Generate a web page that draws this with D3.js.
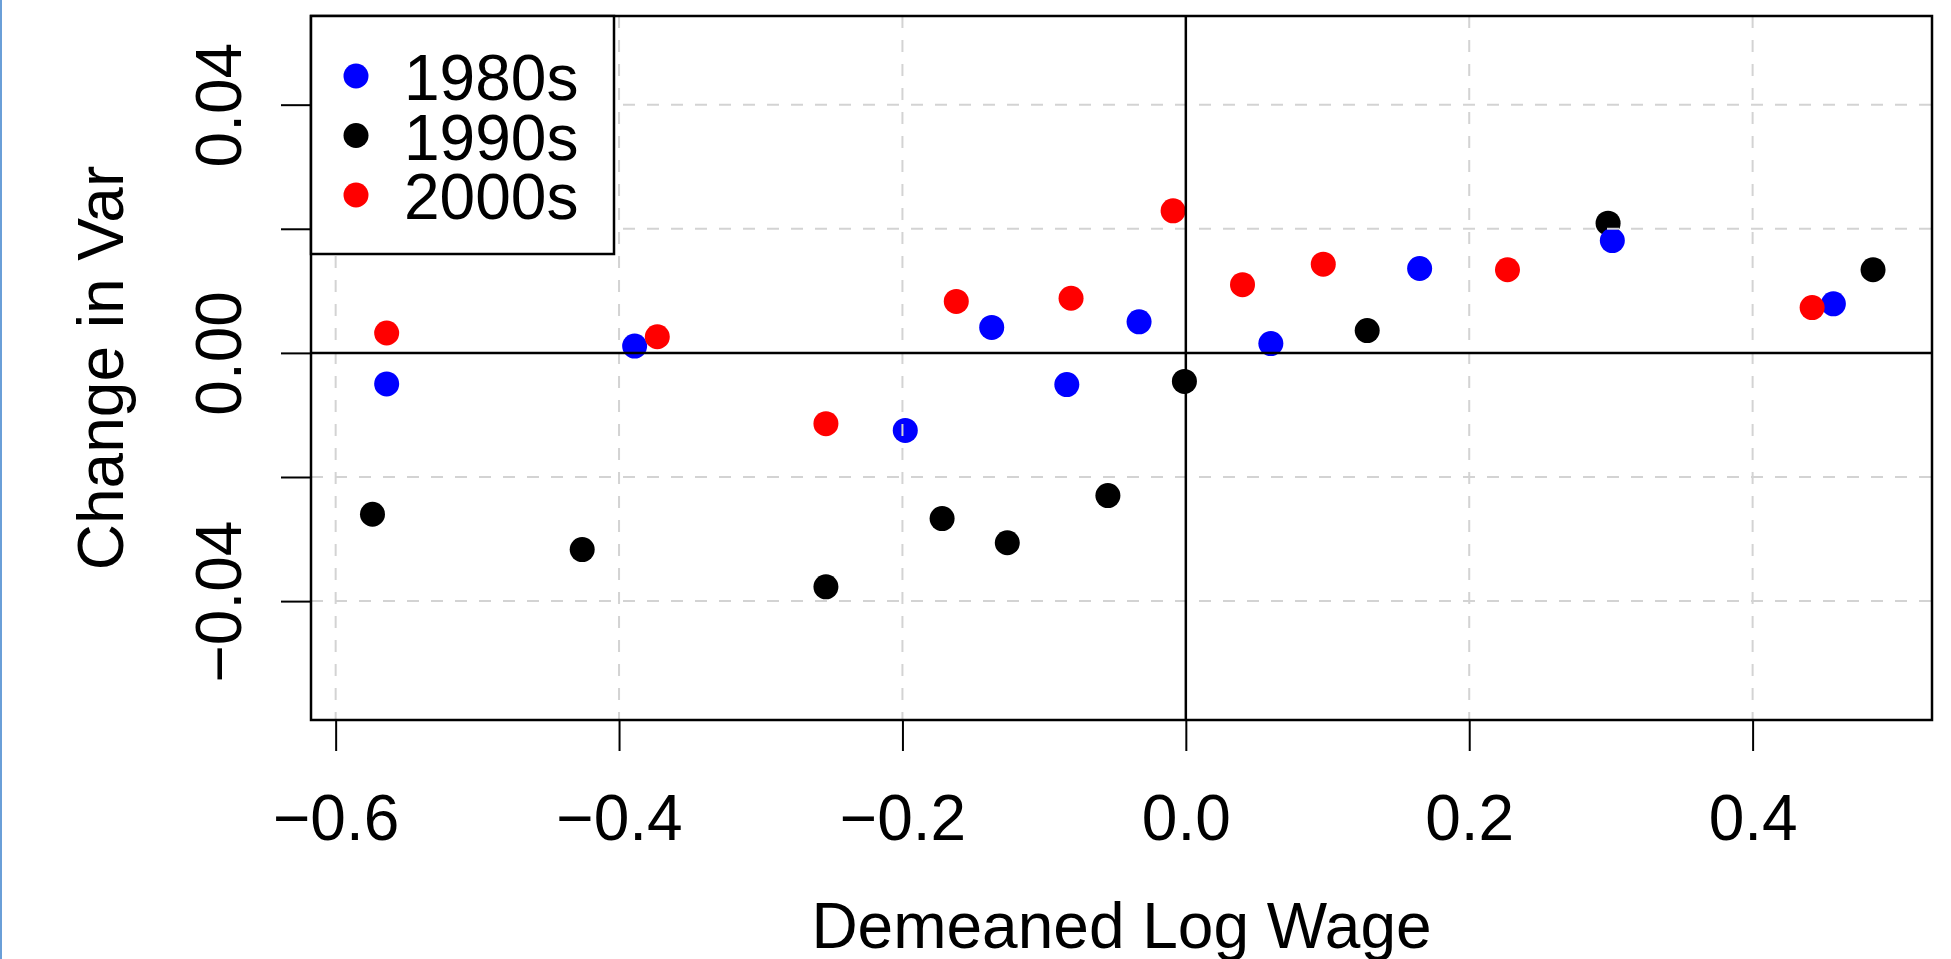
<!DOCTYPE html>
<html lang="en">
<head>
    <meta charset="UTF-8">
    <title>Change in Var by Demeaned Log Wage</title>
    <style>
        html, body {
            margin: 0;
            padding: 0;
            background: #fff;
        }
        #chart {
            position: relative;
            width: 1951px;
            height: 959px;
            overflow: hidden;
        }
        .leftbar {
            position: absolute;
            left: 0;
            top: 0;
            width: 2px;
            height: 959px;
            background: #6a9fd8;
        }
        text {
            font-family: "Liberation Sans", Arial, Helvetica, sans-serif;
            fill: #000;
        }
    </style>
</head>
<body>
    <div id="chart"><div class="leftbar"></div></div>
    <script src="https://d3js.org/d3.v7.min.js"></script>
    <script>
        // series
        var decades = ["1980s", "1990s", "2000s"];
        var decadeColors = ["#0000ff", "#000000", "#ff0000"];

        var wage1980s = [-0.564, -0.389, -0.198, -0.137, -0.084, -0.033, 0.060, 0.165, 0.301, 0.457];
        var var1980s  = [-0.0050, 0.0011, -0.0125, 0.0041, -0.0051, 0.0050, 0.0015, 0.0136, 0.0181, 0.0079];

        var wage1990s = [-0.574, -0.426, -0.254, -0.172, -0.126, -0.055, -0.001, 0.128, 0.298, 0.485];
        var var1990s  = [-0.0260, -0.0317, -0.0377, -0.0267, -0.0306, -0.0230, -0.0046, 0.0036, 0.0209, 0.0134];

        var wage2000s = [-0.564, -0.373, -0.254, -0.162, -0.081, -0.009, 0.040, 0.097, 0.227, 0.442];
        var var2000s  = [0.0032, 0.0026, -0.0114, 0.0083, 0.0088, 0.0229, 0.0110, 0.0143, 0.0134, 0.0073];

        var xTicks = [-0.6, -0.4, -0.2, 0.0, 0.2, 0.4];
        var yTicks = [-0.04, -0.02, 0.00, 0.02, 0.04];
        var yTickLabels = ["\u22120.04", "", "0.00", "", "0.04"];

        var xTitle = "Demeaned Log Wage";
        var yTitle = "Change in Var";

        // plot region in page pixels
        var W = 1951, H = 959;
        var plot = {left: 311, right: 1932, top: 16, bottom: 720};
        var fontSize = 64;

        var svg = d3.select("#chart").append("svg")
            .attr("width", W)
            .attr("height", H)
            .style("position", "absolute")
            .style("left", 0)
            .style("top", 0);

        var x = d3.scaleLinear().domain([-0.6174, 0.5266]).range([plot.left, plot.right]);
        var y = d3.scaleLinear().domain([-0.05916, 0.05429]).range([plot.bottom, plot.top]);

        function fmtX(d) {
            return d3.format(".1f")(d).replace("-", "\u2212");
        }

        // points: 1990s first, then 1980s, then 2000s on top
        var series = [
            {name: "1990s", xs: wage1990s, ys: var1990s, color: decadeColors[1]},
            {name: "1980s", xs: wage1980s, ys: var1980s, color: decadeColors[0]},
            {name: "2000s", xs: wage2000s, ys: var2000s, color: decadeColors[2]}
        ];

        svg.append("clipPath").attr("id", "plotclip")
            .append("rect")
            .attr("x", plot.left).attr("y", plot.top)
            .attr("width", plot.right - plot.left)
            .attr("height", plot.bottom - plot.top);

        var pts = svg.append("g").attr("clip-path", "url(#plotclip)");
        series.forEach(function(s) {
            pts.selectAll(null)
                .data(d3.range(s.xs.length))
                .join("circle")
                .attr("cx", function(i) { return x(s.xs[i]); })
                .attr("cy", function(i) { return y(s.ys[i]); })
                .attr("r", 12.5)
                .attr("fill", s.color);
        });

        // grid drawn over the points (like R grid())
        var grid = svg.append("g")
            .attr("stroke", "#d3d3d3")
            .attr("stroke-width", 2)
            .attr("stroke-dasharray", "12,12");
        grid.selectAll("line.gx")
            .data(xTicks.filter(function(d) { return d !== 0; }))
            .join("line")
            .attr("class", "gx")
            .attr("x1", function(d) { return x(d); })
            .attr("x2", function(d) { return x(d); })
            .attr("y1", plot.top)
            .attr("y2", plot.bottom);
        grid.selectAll("line.gy")
            .data(yTicks.filter(function(d) { return d !== 0; }))
            .join("line")
            .attr("class", "gy")
            .attr("x1", plot.left)
            .attr("x2", plot.right)
            .attr("y1", function(d) { return y(d); })
            .attr("y2", function(d) { return y(d); });

        // zero lines
        svg.append("line")
            .attr("x1", plot.left).attr("x2", plot.right)
            .attr("y1", y(0)).attr("y2", y(0))
            .attr("stroke", "#000").attr("stroke-width", 2.5);
        svg.append("line")
            .attr("x1", x(0)).attr("x2", x(0))
            .attr("y1", plot.top).attr("y2", plot.bottom)
            .attr("stroke", "#000").attr("stroke-width", 2.5);

        // axes
        var xAxis = d3.axisBottom(x)
            .tickValues(xTicks)
            .tickSize(31)
            .tickPadding(44)
            .tickFormat(fmtX);
        var gx = svg.append("g")
            .attr("transform", "translate(0," + plot.bottom + ")")
            .call(xAxis);
        gx.select(".domain").remove();
        gx.selectAll(".tick line").attr("stroke", "#000").attr("stroke-width", 2);
        gx.selectAll(".tick text")
            .attr("font-size", fontSize)
            .attr("font-family", "Liberation Sans, Arial, Helvetica, sans-serif")
            .attr("fill", "#000");

        var yAxis = d3.axisLeft(y)
            .tickValues(yTicks)
            .tickSize(30)
            .tickFormat(function(d, i) { return yTickLabels[i]; });
        var gy = svg.append("g")
            .attr("transform", "translate(" + plot.left + ",0)")
            .call(yAxis);
        gy.select(".domain").remove();
        gy.selectAll(".tick line").attr("stroke", "#000").attr("stroke-width", 2);
        gy.selectAll(".tick text")
            .attr("font-size", fontSize)
            .attr("font-family", "Liberation Sans, Arial, Helvetica, sans-serif")
            .attr("fill", "#000")
            .attr("x", 0)
            .attr("dy", null)
            .attr("text-anchor", "middle")
            .attr("transform", "translate(" + (241 - plot.left) + ",0) rotate(-90)");

        // box around the plot
        svg.append("rect")
            .attr("x", plot.left).attr("y", plot.top)
            .attr("width", plot.right - plot.left)
            .attr("height", plot.bottom - plot.top)
            .attr("fill", "none")
            .attr("stroke", "#000")
            .attr("stroke-width", 2.5);

        // axis titles
        svg.append("text")
            .attr("x", (plot.left + plot.right) / 2)
            .attr("y", 948)
            .attr("text-anchor", "middle")
            .attr("font-size", fontSize)
            .text(xTitle);
        svg.append("text")
            .attr("transform", "translate(123," + (plot.top + plot.bottom) / 2 + ") rotate(-90)")
            .attr("text-anchor", "middle")
            .attr("font-size", fontSize)
            .text(yTitle);

        // legend
        var leg = svg.append("g");
        leg.append("rect")
            .attr("x", plot.left).attr("y", plot.top)
            .attr("width", 614 - plot.left)
            .attr("height", 254 - plot.top)
            .attr("fill", "#fff")
            .attr("stroke", "#000")
            .attr("stroke-width", 2.5);
        var items = leg.selectAll("g.item")
            .data(decades)
            .join("g")
            .attr("class", "item")
            .attr("transform", function(d, i) { return "translate(0," + (76 + i * 59.5) + ")"; });
        items.append("circle")
            .attr("cx", 356)
            .attr("cy", 0)
            .attr("r", 12.5)
            .attr("fill", function(d, i) { return decadeColors[i]; });
        items.append("text")
            .attr("x", 404)
            .attr("y", 24)
            .attr("font-size", fontSize)
            .text(function(d) { return d; });
    </script>
</body>
</html>
